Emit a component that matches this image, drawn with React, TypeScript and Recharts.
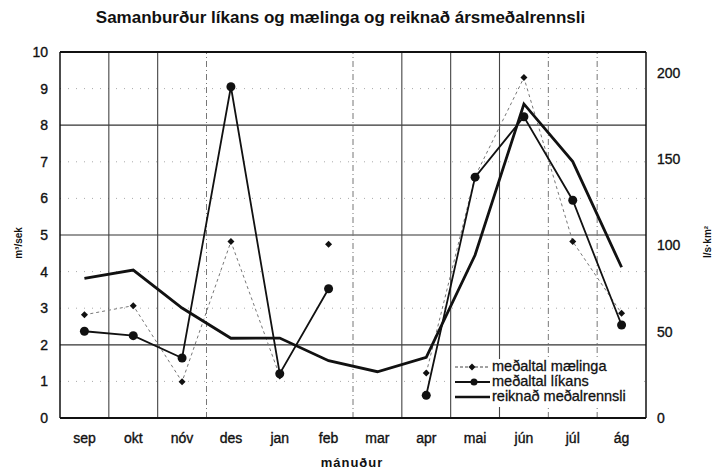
import React from "react";
import {
  LineChart,
  Line,
  XAxis,
  YAxis,
  ReferenceLine,
} from "recharts";

// mánuðir (vatnsár sep - ág)
const months = ["sep", "okt", "nóv", "des", "jan", "feb", "mar", "apr", "mai", "jún", "júl", "ág"];

// m³/sek
const maelinga = [2.82, 3.07, 0.99, 4.82, 1.15, 4.75, null, 1.23, 6.6, 9.3, 4.82, 2.86];
const likans = [2.37, 2.25, 1.64, 9.05, 1.21, 3.53, null, 0.62, 6.58, 8.23, 5.95, 2.54];

// l/s·km²
const reiknad = [80.9, 85.7, 63.7, 46.2, 46.3, 33.2, 26.8, 35.2, 94.4, 181.9, 148.5, 87.3];

const leftTicks = [0, 1, 2, 3, 4, 5, 6, 7, 8, 9, 10];
const rightTicks = [0, 50, 100, 150, 200];

// lóðréttar línur milli mánaða
const solidX = [0.5, 1.5, 6.5, 7.5, 8.5];
const dashedX = [2.5, 5.5, 9.5, 10.5];
const solidY = [2, 5, 8];
const dottedY = [1, 3, 4, 6, 7, 9];

// mælingar: jan og feb eru ekki tengd á myndinni
const data = months.map((m, i) => ({
  idx: i,
  name: m,
  maelingaA: i <= 4 ? maelinga[i] : null,
  maelingaB: i >= 5 ? maelinga[i] : null,
  likans: likans[i],
  reiknad: reiknad[i],
}));

const FONT = "'Liberation Sans', Arial, Helvetica, sans-serif";
const tickStyle = { fill: "#111", stroke: "#111", strokeWidth: 0.35, fontSize: 14, fontFamily: FONT };

const Diamond = (props: any) => {
  const { cx, cy, index } = props;
  if (cx == null || cy == null) return <g key={`d-${index}`} />;
  return (
    <polygon
      key={`d-${index}`}
      points={`${cx},${cy - 3.5} ${cx + 3.5},${cy} ${cx},${cy + 3.5} ${cx - 3.5},${cy}`}
      fill="#111"
    />
  );
};

const Dot = (props: any) => {
  const { cx, cy, index } = props;
  if (cx == null || cy == null) return <g key={`c-${index}`} />;
  return <circle key={`c-${index}`} cx={cx} cy={cy} r={4.5} fill="#111" />;
};

const LegendBox = () => (
  <div
    style={{
      position: "absolute",
      left: 452,
      top: 359,
      width: 192,
      height: 48,
      background: "#fff",
      fontFamily: FONT,
      fontSize: 14.5,
      lineHeight: "15px",
      color: "#111",
      WebkitTextStroke: "0.3px #111",
    }}
  >
    {[
      { label: "meðaltal mælinga", kind: "m" },
      { label: "meðaltal líkans", kind: "l" },
      { label: "reiknað meðalrennsli", kind: "r" },
    ].map((row) => (
      <div key={row.kind} style={{ display: "flex", alignItems: "center", height: 15 }}>
        <svg width={38} height={15} style={{ marginLeft: 2 }}>
          {row.kind === "m" && (
            <>
              <line x1={1} y1={8} x2={36} y2={8} stroke="#444" strokeWidth={1} strokeDasharray="3 2" />
              <polygon points="18,4.5 21.5,8 18,11.5 14.5,8" fill="#111" />
            </>
          )}
          {row.kind === "l" && (
            <>
              <line x1={1} y1={8} x2={36} y2={8} stroke="#111" strokeWidth={1.8} />
              <circle cx={20} cy={8} r={3.5} fill="#111" />
            </>
          )}
          {row.kind === "r" && (
            <line x1={1} y1={8} x2={36} y2={8} stroke="#111" strokeWidth={2.6} />
          )}
        </svg>
        <span>{row.label}</span>
      </div>
    ))}
  </div>
);

export default function App() {
  return (
    <div style={{ position: "absolute", left: 0, top: 0, width: 715, height: 469, background: "#fff" }}>
      <div
        style={{
          position: "absolute",
          left: 0,
          width: 681,
          top: 8,
          textAlign: "center",
          fontFamily: FONT,
          fontWeight: "bold",
          fontSize: 17,
          color: "#111",
        }}
      >
        Samanburður líkans og mælinga og reiknað ársmeðalrennsli
      </div>

      <LineChart
        width={715}
        height={469}
        data={data}
        margin={{ top: 52, right: 19, bottom: 21, left: 20 }}
      >
        <XAxis
          xAxisId="x"
          dataKey="idx"
          type="number"
          domain={[-0.5, 11.5]}
          ticks={months.map((_, i) => i)}
          tickFormatter={(v: number) => months[v]}
          height={30}
          tickSize={0}
          tickMargin={15}
          axisLine={false}
          tick={tickStyle}
        />
        <YAxis
          yAxisId="left"
          domain={[0, 10]}
          ticks={leftTicks}
          width={40}
          tickSize={0}
          tickMargin={12}
          axisLine={false}
          tick={tickStyle}
        />
        <YAxis
          yAxisId="right"
          orientation="right"
          domain={[0, 212]}
          ticks={rightTicks}
          width={50}
          tickSize={0}
          tickMargin={11}
          axisLine={false}
          tick={tickStyle}
        />

        {dottedY.map((v) => (
          <ReferenceLine key={`dy${v}`} xAxisId="x" yAxisId="left" y={v} stroke="#aaa" strokeWidth={1} strokeDasharray="1 7" />
        ))}
        {solidY.map((v) => (
          <ReferenceLine key={`sy${v}`} xAxisId="x" yAxisId="left" y={v} stroke="#333" strokeWidth={1.2} />
        ))}
        {solidX.map((v) => (
          <ReferenceLine key={`sx${v}`} xAxisId="x" yAxisId="left" x={v} stroke="#444" strokeWidth={1.1} />
        ))}
        {dashedX.map((v) => (
          <ReferenceLine key={`dx${v}`} xAxisId="x" yAxisId="left" x={v} stroke="#777" strokeWidth={1} strokeDasharray="6 3 1 3" />
        ))}
        <ReferenceLine xAxisId="x" yAxisId="left" y={0} stroke="#111" strokeWidth={2} />
        <ReferenceLine xAxisId="x" yAxisId="left" y={10} stroke="#111" strokeWidth={2} />
        <ReferenceLine xAxisId="x" yAxisId="left" x={-0.5} stroke="#111" strokeWidth={1.5} />
        <ReferenceLine xAxisId="x" yAxisId="left" x={11.5} stroke="#111" strokeWidth={1.5} />

        <Line
          xAxisId="x"
          yAxisId="left"
          dataKey="maelingaA"
          stroke="#777"
          strokeWidth={1}
          strokeDasharray="3 3"
          dot={Diamond}
          activeDot={false}
          isAnimationActive={false}
        />
        <Line
          xAxisId="x"
          yAxisId="left"
          dataKey="maelingaB"
          stroke="#777"
          strokeWidth={1}
          strokeDasharray="3 3"
          dot={Diamond}
          activeDot={false}
          isAnimationActive={false}
        />
        <Line
          xAxisId="x"
          yAxisId="left"
          dataKey="likans"
          stroke="#111"
          strokeWidth={1.8}
          dot={Dot}
          activeDot={false}
          isAnimationActive={false}
        />
        <Line
          xAxisId="x"
          yAxisId="right"
          dataKey="reiknad"
          stroke="#111"
          strokeWidth={2.8}
          dot={false}
          activeDot={false}
          isAnimationActive={false}
        />
      </LineChart>

      <LegendBox />

      <div
        style={{
          position: "absolute",
          left: 18,
          top: 243,
          transform: "translate(-50%, -50%) rotate(-90deg)",
          fontFamily: FONT,
          fontWeight: "bold",
          fontSize: 10,
          color: "#111",
          whiteSpace: "nowrap",
        }}
      >
        m³/sek
      </div>
      <div
        style={{
          position: "absolute",
          left: 707,
          top: 242,
          transform: "translate(-50%, -50%) rotate(-90deg)",
          fontFamily: FONT,
          fontWeight: "bold",
          fontSize: 10,
          color: "#111",
          whiteSpace: "nowrap",
        }}
      >
        l/s·km²
      </div>
      <div
        style={{
          position: "absolute",
          left: 352,
          top: 462,
          transform: "translate(-50%, -50%)",
          fontFamily: FONT,
          fontWeight: "bold",
          fontSize: 13,
          letterSpacing: 1,
          color: "#111",
          whiteSpace: "nowrap",
        }}
      >
        mánuður
      </div>
    </div>
  );
}
